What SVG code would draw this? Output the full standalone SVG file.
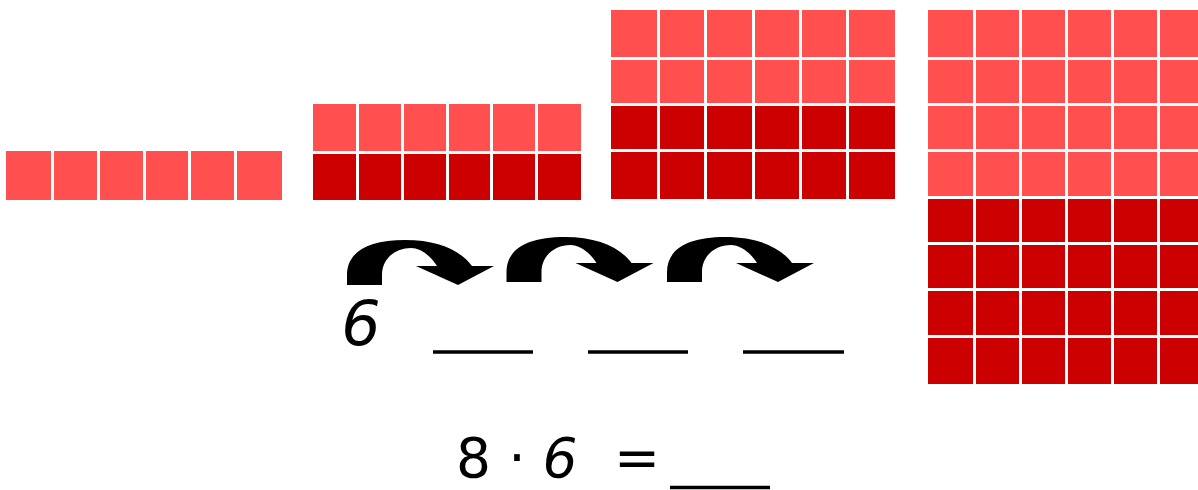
<svg xmlns="http://www.w3.org/2000/svg" width="1198" height="490" viewBox="0 0 1198 490">
  <style>
    .l { fill: #FF4F4F; }
    .d { fill: #CC0000; }
    .arrow { fill: #000000; }
    .blank { stroke: #000000; stroke-width: 3.6; fill: none; }
    .num { font-family: "DejaVu Sans", "Liberation Sans", sans-serif; fill: #000000; text-anchor: middle; }
    .slant { font-style: italic; }
  </style>
  <defs>
    <path id="curvedArrow" d="M 347 285 L 347 275 C 347 252 368 240 405 240 C 438 240 460 250 472 266 L 494 266 L 458 285 L 416 266 L 437 266 C 430 255 420 248 411 248 C 396 248 382 258 382 275 L 382 285 Z"/>
  </defs>
  <rect x="0" y="0" width="1198" height="490" fill="#FFFFFF"/>

  <g id="grid-1x6">
    <rect class="l" x="6" y="151" width="45" height="49"/>
    <rect class="l" x="54" y="151" width="43" height="49"/>
    <rect class="l" x="100" y="151" width="43" height="49"/>
    <rect class="l" x="146" y="151" width="42" height="49"/>
    <rect class="l" x="191" y="151" width="43" height="49"/>
    <rect class="l" x="237" y="151" width="45" height="49"/>
  </g>

  <g id="grid-2x6">
    <rect class="l" x="313" y="104" width="43" height="47"/>
    <rect class="l" x="359" y="104" width="42" height="47"/>
    <rect class="l" x="404" y="104" width="42" height="47"/>
    <rect class="l" x="449" y="104" width="41" height="47"/>
    <rect class="l" x="493" y="104" width="42" height="47"/>
    <rect class="l" x="538" y="104" width="43" height="47"/>
    <rect class="d" x="313" y="154" width="43" height="46"/>
    <rect class="d" x="359" y="154" width="42" height="46"/>
    <rect class="d" x="404" y="154" width="42" height="46"/>
    <rect class="d" x="449" y="154" width="41" height="46"/>
    <rect class="d" x="493" y="154" width="42" height="46"/>
    <rect class="d" x="538" y="154" width="43" height="46"/>
  </g>

  <g id="grid-4x6">
    <rect class="l" x="611" y="10" width="46" height="47"/>
    <rect class="l" x="660" y="10" width="44" height="47"/>
    <rect class="l" x="707" y="10" width="45" height="47"/>
    <rect class="l" x="755" y="10" width="44" height="47"/>
    <rect class="l" x="802" y="10" width="44" height="47"/>
    <rect class="l" x="849" y="10" width="46" height="47"/>
    <rect class="l" x="611" y="60" width="46" height="43"/>
    <rect class="l" x="660" y="60" width="44" height="43"/>
    <rect class="l" x="707" y="60" width="45" height="43"/>
    <rect class="l" x="755" y="60" width="44" height="43"/>
    <rect class="l" x="802" y="60" width="44" height="43"/>
    <rect class="l" x="849" y="60" width="46" height="43"/>
    <rect class="d" x="611" y="106" width="46" height="43"/>
    <rect class="d" x="660" y="106" width="44" height="43"/>
    <rect class="d" x="707" y="106" width="45" height="43"/>
    <rect class="d" x="755" y="106" width="44" height="43"/>
    <rect class="d" x="802" y="106" width="44" height="43"/>
    <rect class="d" x="849" y="106" width="46" height="43"/>
    <rect class="d" x="611" y="152" width="46" height="47"/>
    <rect class="d" x="660" y="152" width="44" height="47"/>
    <rect class="d" x="707" y="152" width="45" height="47"/>
    <rect class="d" x="755" y="152" width="44" height="47"/>
    <rect class="d" x="802" y="152" width="44" height="47"/>
    <rect class="d" x="849" y="152" width="46" height="47"/>
  </g>

  <g id="grid-8x6">
    <rect class="l" x="928" y="10" width="45" height="47"/>
    <rect class="l" x="976" y="10" width="43" height="47"/>
    <rect class="l" x="1022" y="10" width="43" height="47"/>
    <rect class="l" x="1068" y="10" width="43" height="47"/>
    <rect class="l" x="1114" y="10" width="43" height="47"/>
    <rect class="l" x="1160" y="10" width="40" height="47"/>
    <rect class="l" x="928" y="60" width="45" height="43"/>
    <rect class="l" x="976" y="60" width="43" height="43"/>
    <rect class="l" x="1022" y="60" width="43" height="43"/>
    <rect class="l" x="1068" y="60" width="43" height="43"/>
    <rect class="l" x="1114" y="60" width="43" height="43"/>
    <rect class="l" x="1160" y="60" width="40" height="43"/>
    <rect class="l" x="928" y="106" width="45" height="43"/>
    <rect class="l" x="976" y="106" width="43" height="43"/>
    <rect class="l" x="1022" y="106" width="43" height="43"/>
    <rect class="l" x="1068" y="106" width="43" height="43"/>
    <rect class="l" x="1114" y="106" width="43" height="43"/>
    <rect class="l" x="1160" y="106" width="40" height="43"/>
    <rect class="l" x="928" y="152" width="45" height="44"/>
    <rect class="l" x="976" y="152" width="43" height="44"/>
    <rect class="l" x="1022" y="152" width="43" height="44"/>
    <rect class="l" x="1068" y="152" width="43" height="44"/>
    <rect class="l" x="1114" y="152" width="43" height="44"/>
    <rect class="l" x="1160" y="152" width="40" height="44"/>
    <rect class="d" x="928" y="199" width="45" height="43"/>
    <rect class="d" x="976" y="199" width="43" height="43"/>
    <rect class="d" x="1022" y="199" width="43" height="43"/>
    <rect class="d" x="1068" y="199" width="43" height="43"/>
    <rect class="d" x="1114" y="199" width="43" height="43"/>
    <rect class="d" x="1160" y="199" width="40" height="43"/>
    <rect class="d" x="928" y="245" width="45" height="43"/>
    <rect class="d" x="976" y="245" width="43" height="43"/>
    <rect class="d" x="1022" y="245" width="43" height="43"/>
    <rect class="d" x="1068" y="245" width="43" height="43"/>
    <rect class="d" x="1114" y="245" width="43" height="43"/>
    <rect class="d" x="1160" y="245" width="40" height="43"/>
    <rect class="d" x="928" y="291" width="45" height="44"/>
    <rect class="d" x="976" y="291" width="43" height="44"/>
    <rect class="d" x="1022" y="291" width="43" height="44"/>
    <rect class="d" x="1068" y="291" width="43" height="44"/>
    <rect class="d" x="1114" y="291" width="43" height="44"/>
    <rect class="d" x="1160" y="291" width="40" height="44"/>
    <rect class="d" x="928" y="338" width="45" height="46"/>
    <rect class="d" x="976" y="338" width="43" height="46"/>
    <rect class="d" x="1022" y="338" width="43" height="46"/>
    <rect class="d" x="1068" y="338" width="43" height="46"/>
    <rect class="d" x="1114" y="338" width="43" height="46"/>
    <rect class="d" x="1160" y="338" width="40" height="46"/>
  </g>

  <g id="connectors">
    <use href="#curvedArrow" class="arrow"/>
    <use href="#curvedArrow" class="arrow" transform="translate(159.5,-3)"/>
    <use href="#curvedArrow" class="arrow" transform="translate(320,-3)"/>
  </g>

  <g id="sequence">
    <text class="num slant" x="361" y="345" font-size="62">6</text>
    <line class="blank" x1="433" y1="352" x2="533" y2="352"/>
    <line class="blank" x1="588" y1="352" x2="688" y2="352"/>
    <line class="blank" x1="743" y1="352" x2="844" y2="352"/>
  </g>

  <g id="equation">
    <text class="num" y="477" font-size="55"><tspan x="473.5">8</tspan><tspan x="517">·</tspan><tspan x="560" class="slant">6</tspan><tspan x="637">=</tspan></text>
    <line class="blank" x1="670" y1="487.5" x2="770" y2="487.5"/>
  </g>
</svg>
